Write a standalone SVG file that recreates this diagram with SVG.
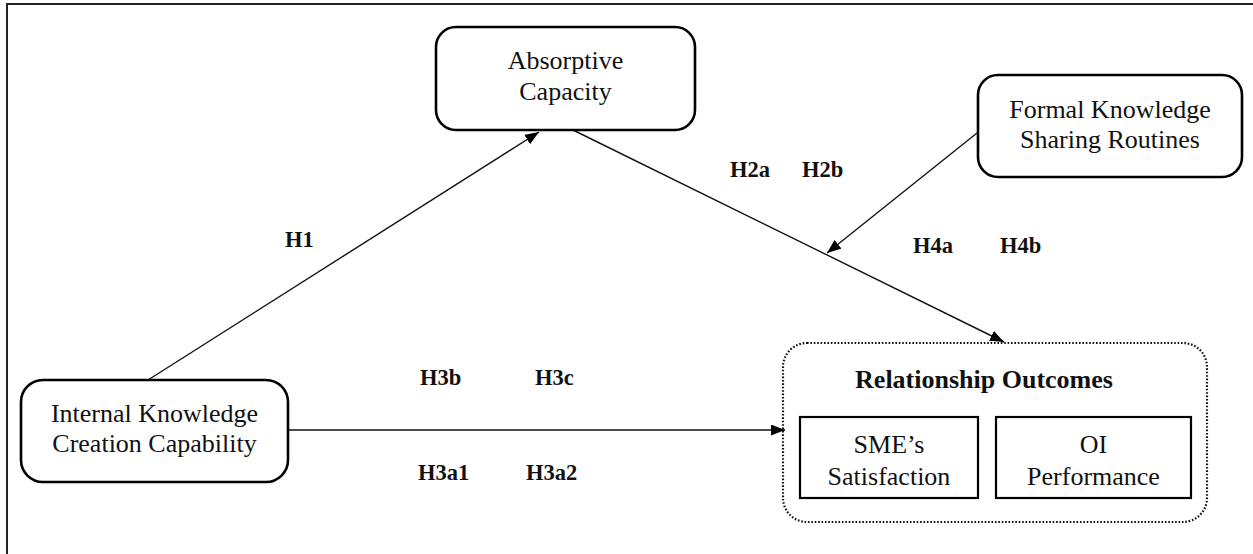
<svg xmlns="http://www.w3.org/2000/svg" width="1253" height="554" viewBox="0 0 1253 554">
<style>
.box{fill:#fff;stroke:#000;stroke-width:2.6}
.inner{fill:#fff;stroke:#000;stroke-width:2.2}
.dot{fill:none;stroke:#111;stroke-width:2.2;stroke-dasharray:1.6 1.8}
.t{font-family:"Liberation Serif","Times New Roman",serif;font-size:26px;fill:#111;text-anchor:middle}
.b{font-family:"Liberation Serif","Times New Roman",serif;font-size:22.5px;font-weight:bold;fill:#111}
.rb{font-family:"Liberation Serif","Times New Roman",serif;font-size:26px;font-weight:bold;fill:#111;text-anchor:middle}
.c{stroke:#111;stroke-width:1.4;fill:none}
</style>
<defs>
<marker id="ah" viewBox="0 0 14 11" refX="14" refY="5.5" markerWidth="14" markerHeight="11" markerUnits="userSpaceOnUse" orient="auto">
<path d="M0,0 L14,5.5 L0,11 Z" fill="#000"/>
</marker>
</defs>
<rect width="1253" height="554" fill="#fff"/>
<path d="M7,554 V4 H1253" fill="none" stroke="#222" stroke-width="2"/>
<g id="connectors">
<line class="c" x1="148" y1="380" x2="539" y2="132" marker-end="url(#ah)"/>
<line class="c" x1="573" y1="130" x2="1004" y2="342" marker-end="url(#ah)"/>
<line class="c" x1="977" y1="133" x2="827" y2="253" marker-end="url(#ah)"/>
<line class="c" x1="288" y1="430" x2="785" y2="430" marker-end="url(#ah)"/>
</g>
<g id="absorptive">
<rect class="box" x="436" y="27" width="259" height="103" rx="20"/>
<text class="t" x="565.5" y="69">Absorptive</text>
<text class="t" x="565.5" y="100">Capacity</text>
</g>
<g id="formal">
<rect class="box" x="978" y="75" width="264" height="102" rx="20"/>
<text class="t" x="1110" y="118">Formal Knowledge</text>
<text class="t" x="1110" y="148">Sharing Routines</text>
</g>
<g id="internal">
<rect class="box" x="21" y="380" width="267" height="102" rx="22"/>
<text class="t" x="154.5" y="422">Internal Knowledge</text>
<text class="t" x="154.5" y="452">Creation Capability</text>
</g>
<g id="outcomes">
<rect class="dot" x="783" y="343" width="424" height="179" rx="24"/>
<text class="rb" x="984" y="388">Relationship Outcomes</text>
</g>
<g id="sme">
<rect class="inner" x="800" y="417" width="178" height="81"/>
<text class="t" x="889" y="453">SME’s</text>
<text class="t" x="889" y="485">Satisfaction</text>
</g>
<g id="oi">
<rect class="inner" x="996" y="417" width="195" height="81"/>
<text class="t" x="1093.5" y="453">OI</text>
<text class="t" x="1093.5" y="485">Performance</text>
</g>
<g id="labels">
<text class="b" x="285" y="247">H1</text>
<text class="b" x="730" y="177">H2a</text>
<text class="b" x="802" y="177">H2b</text>
<text class="b" x="913" y="253">H4a</text>
<text class="b" x="1000" y="253">H4b</text>
<text class="b" x="420" y="385">H3b</text>
<text class="b" x="535" y="385">H3c</text>
<text class="b" x="418" y="480">H3a1</text>
<text class="b" x="526" y="480">H3a2</text>
</g>
</svg>
